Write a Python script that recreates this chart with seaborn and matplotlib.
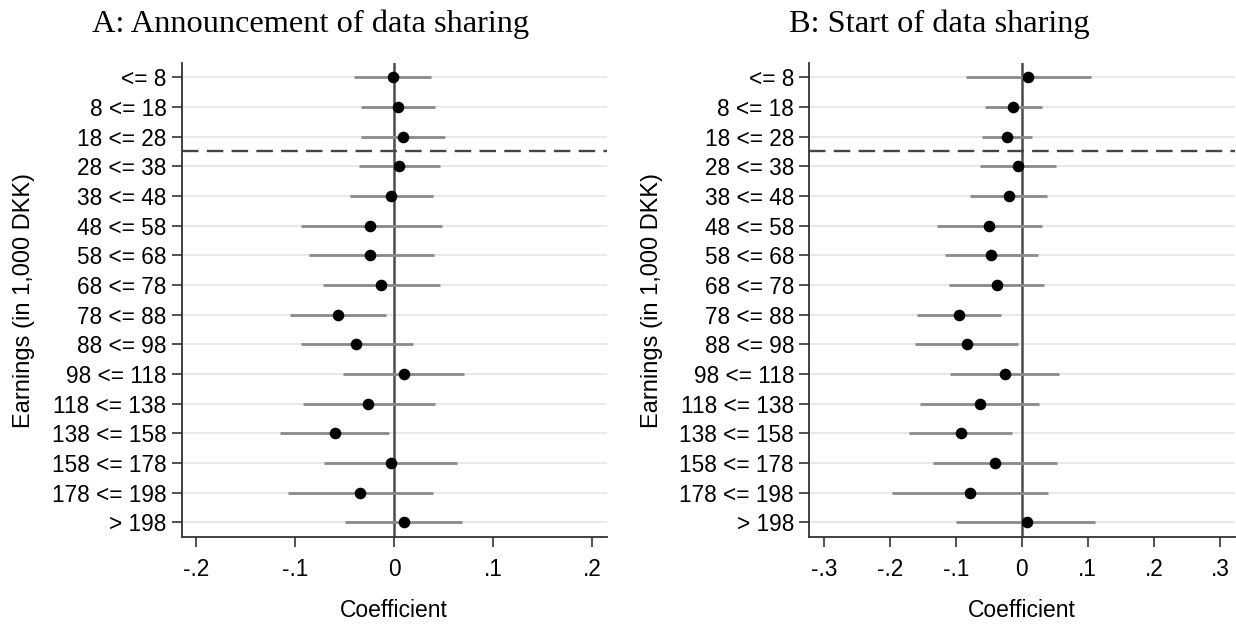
import numpy as np
import pandas as pd
import matplotlib
matplotlib.use("Agg")
import matplotlib.pyplot as plt
import seaborn as sns

categories = ["<= 8", "8 <= 18", "18 <= 28", "28 <= 38", "38 <= 48", "48 <= 58",
              "58 <= 68", "68 <= 78", "78 <= 88", "88 <= 98", "98 <= 118",
              "118 <= 138", "138 <= 158", "158 <= 178", "178 <= 198", "> 198"]

coef_a = [-0.001, 0.004, 0.009, 0.005, -0.003, -0.024, -0.024, -0.013,
          -0.057, -0.038, 0.010, -0.026, -0.060, -0.003, -0.034, 0.010]
lo_a = [-0.040, -0.033, -0.033, -0.035, -0.045, -0.094, -0.086, -0.072,
        -0.105, -0.094, -0.052, -0.092, -0.115, -0.071, -0.107, -0.050]
hi_a = [0.037, 0.041, 0.051, 0.046, 0.039, 0.048, 0.040, 0.046,
        -0.008, 0.019, 0.071, 0.041, -0.005, 0.064, 0.039, 0.069]

coef_b = [0.010, -0.013, -0.022, -0.006, -0.020, -0.050, -0.047, -0.037,
          -0.095, -0.083, -0.025, -0.064, -0.092, -0.041, -0.078, 0.008]
lo_b = [-0.085, -0.056, -0.060, -0.063, -0.079, -0.128, -0.116, -0.110,
        -0.159, -0.161, -0.108, -0.154, -0.171, -0.135, -0.197, -0.099]
hi_b = [0.105, 0.030, 0.016, 0.052, 0.038, 0.030, 0.024, 0.034,
        -0.031, -0.006, 0.057, 0.026, -0.015, 0.053, 0.039, 0.111]

titles = ["A: Announcement of data sharing", "B: Start of data sharing"]
xticks_a = [-0.2, -0.1, 0.0, 0.1, 0.2]
xticklabels_a = ["-.2", "-.1", "0", ".1", ".2"]
xticks_b = [-0.3, -0.2, -0.1, 0.0, 0.1, 0.2, 0.3]
xticklabels_b = ["-.3", "-.2", "-.1", "0", ".1", ".2", ".3"]
ylabel = "Earnings (in 1,000 DKK)"
xlabel = "Coefficient"

sns.set_theme(style="white")
plt.rcParams["font.family"] = ["Liberation Sans", "DejaVu Sans"]

W, H = 1236, 624
fig = plt.figure(figsize=(W / 100, H / 100), dpi=100)

def px_axes(x0, x1, y0, y1):
    return fig.add_axes([x0 / W, 1 - y1 / H, (x1 - x0) / W, (y1 - y0) / H])

ax_a = px_axes(181.7, 606.7, 63, 537.3)
ax_b = px_axes(809.3, 1235, 63, 537.3)

panels = [
    (ax_a, coef_a, lo_a, hi_a, xticks_a, xticklabels_a, (-0.2145, 0.2148), 310.5),
    (ax_b, coef_b, lo_b, hi_b, xticks_b, xticklabels_b, (-0.3218, 0.323), 939),
]

for i, (ax, coef, lo, hi, xt, xtl, xlim, tx) in enumerate(panels):
    df = pd.DataFrame({"cat": categories, "pos": np.arange(len(categories)),
                       "coef": coef, "lo": lo, "hi": hi})
    ax.set_facecolor("white")
    for y in df["pos"]:
        ax.axhline(y, color="#e9e9e9", lw=1.4, zorder=0)
    ax.axvline(0, color="#4a4a4a", lw=1.8, zorder=1)
    ax.axhline(2.5, color="#444444", lw=1.7, ls=(0, (7, 3.5)), zorder=1)
    ax.hlines(df["pos"], df["lo"], df["hi"], color="#8a8a8a", lw=2.0, zorder=2)
    sns.scatterplot(data=df, x="coef", y="pos", ax=ax, color="black", s=70,
                    edgecolor="black", linewidth=0, zorder=3, legend=False)
    ax.set_ylim(15.5, -0.48)
    ax.set_xlim(*xlim)
    ax.set_yticks(df["pos"])
    ax.set_yticklabels(categories)
    ax.set_xticks(xt)
    ax.set_xticklabels(xtl)
    ax.tick_params(axis="both", direction="out", length=7, width=1.2,
                   color="#333333", labelsize=16.3, labelcolor="black",
                   left=True, bottom=True)
    ax.tick_params(axis="y", pad=4)
    ax.tick_params(axis="x", pad=8)
    for s in ["top", "right"]:
        ax.spines[s].set_visible(False)
    for s in ["left", "bottom"]:
        ax.spines[s].set_color("#333333")
        ax.spines[s].set_linewidth(1.3)
    ax.set_xlabel(xlabel, fontsize=16.5, labelpad=13, color="black")
    ax.set_ylabel(ylabel, fontsize=17, labelpad=12, color="black")
    ax.grid(False)
    fig.text(tx / W, 1 - 24 / H, titles[i], ha="center", va="center",
             fontsize=23.3, family="Liberation Serif", color="black")

fig.savefig("out.png", dpi=100, facecolor="white")
